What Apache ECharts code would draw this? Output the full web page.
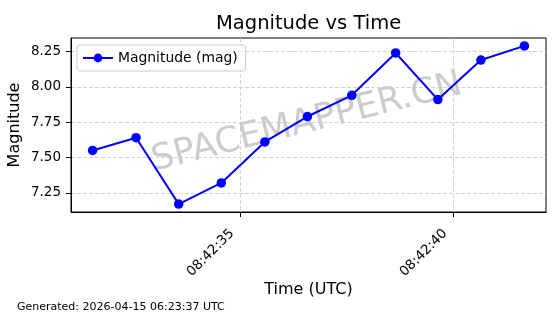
<!DOCTYPE html>
<html>
<head>
<meta charset="utf-8">
<script src="https://cdn.jsdelivr.net/npm/echarts@6/dist/echarts.min.js"></script>
<style>
html,body{margin:0;padding:0;background:#fff;}
#chart{width:560px;height:314px;}
</style>
</head>
<body>
<div id="chart"></div>
<script>
// Data
const times = ['08:42:31.53','08:42:32.55','08:42:33.55','08:42:34.55','08:42:35.57','08:42:36.57','08:42:37.61','08:42:38.64','08:42:39.63','08:42:40.64','08:42:41.66'];
const magnitudes = [7.55, 7.64, 7.17, 7.32, 7.61, 7.79, 7.94, 8.24, 7.91, 8.19, 8.29];
const xTickLabels = ['08:42:35', '08:42:40'];
const yTickValues = [7.25, 7.50, 7.75, 8.00, 8.25];
const seriesName = 'Magnitude (mag)';
const titleText = 'Magnitude vs Time';
const footerText = 'Generated: 2026-04-15 06:23:37 UTC';
const watermarkText = 'SPACEMAPPER.CN';

const baseH = 8, baseM = 42;
function toSec(s){ const p = s.split(':').map(Number); return (p[0]-baseH)*3600 + (p[1]-baseM)*60 + p[2]; }
function fmt(sec){
  const h = baseH, m = baseM + Math.floor(sec/60), s = Math.round(sec % 60);
  const pad = v => String(v).padStart(2,'0');
  return pad(h)+':'+pad(m)+':'+pad(s);
}
const xs = times.map(toSec);
const xTickValues = xTickLabels.map(toSec);
const data = xs.map((x,i)=>[x, magnitudes[i]]);

const xMinD = Math.min(...xs), xMaxD = Math.max(...xs);
const yMinD = Math.min(...magnitudes), yMaxD = Math.max(...magnitudes);
const xm = (xMaxD-xMinD)*0.05, ym = (yMaxD-yMinD)*0.05;

const FONT = 'DejaVu Sans';
const chart = echarts.init(document.getElementById('chart'), null, {renderer:'canvas'});
chart.setOption({
  animation: false,
  backgroundColor: '#fff',
  textStyle: {fontFamily: FONT},
  title: {
    text: titleText, left: 216, top: 14, padding: 0,
    textStyle: {fontFamily: FONT, fontSize: 19.5, fontWeight: 'normal', color: '#000'}
  },
  grid: {left: 71, right: 14, top: 38, bottom: 102, containLabel: false, outerBoundsMode: 'none',
         show: true, borderColor: '#000', borderWidth: 1, backgroundColor: 'transparent'},
  legend: {
    left: 77, top: 45,
    backgroundColor: 'rgba(255,255,255,0.8)',
    borderColor: '#cccccc', borderWidth: 1, borderRadius: 3,
    padding: [6, 8, 6, 5],
    itemWidth: 30, itemHeight: 11, itemGap: 8,
    textStyle: {fontFamily: FONT, fontSize: 13.9, color: '#000'},
    data: [seriesName]
  },
  xAxis: {
    type: 'value',
    min: xMinD - xm, max: xMaxD + xm,
    name: 'Time (UTC)', nameLocation: 'middle', nameGap: 70, nameMoveOverlap: false,
    nameTextStyle: {fontFamily: FONT, fontSize: 16, color: '#000'},
    axisLine: {show: true, lineStyle: {color: '#000', width: 1}},
    axisTick: {show: true, length: 5, lineStyle: {color: '#000'}, customValues: xTickValues},
    axisLabel: {
      show: true, rotate: 45, margin: 11, padding: [0, 12, 0, 0],
      fontFamily: FONT, fontSize: 13.5, color: '#000',
      customValues: xTickValues,
      formatter: v => fmt(v)
    },
    splitLine: {show: true, lineStyle: {color: '#c8c8c8', type: [4, 2], width: 0.8}}
  },
  yAxis: {
    type: 'value',
    min: yMinD - ym, max: yMaxD + ym,
    name: 'Magnitude', nameLocation: 'middle', nameGap: 48, nameRotate: 90, nameMoveOverlap: false,
    nameTextStyle: {fontFamily: FONT, fontSize: 16, color: '#000'},
    axisLine: {show: true, lineStyle: {color: '#000', width: 1}},
    axisTick: {show: true, length: 5, lineStyle: {color: '#000'}, customValues: yTickValues},
    axisLabel: {
      show: true, margin: 10, fontFamily: FONT, fontSize: 13.5, color: '#000',
      customValues: yTickValues,
      formatter: v => v.toFixed(2)
    },
    splitLine: {show: true, lineStyle: {color: '#c8c8c8', type: [4, 2], width: 0.8}}
  },
  graphic: [
    {
      type: 'text', x: 307, y: 123, rotation: 14 * Math.PI / 180, z: -1,
      style: {text: watermarkText, fontFamily: FONT, fontSize: 35.5, fill: 'rgba(128,128,128,0.4)', align: 'center', verticalAlign: 'middle'}
    },
    {
      type: 'text', left: 17, top: 302,
      style: {text: footerText, fontFamily: FONT, fontSize: 11, fill: '#000'}
    }
  ],
  series: [{
    name: seriesName, type: 'line', data: data,
    symbol: 'circle', symbolSize: 9.5, showAllSymbol: true,
    lineStyle: {color: '#0000ff', width: 2},
    itemStyle: {color: '#0000ff'},
    z: 5
  }]
});
</script>
</body>
</html>
